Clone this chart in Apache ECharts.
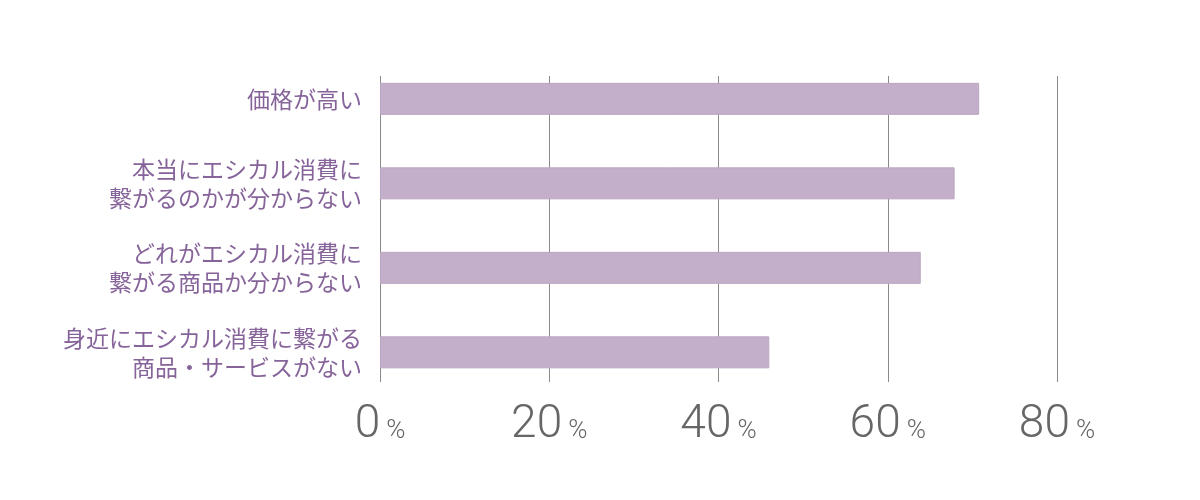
<!DOCTYPE html>
<html>
<head>
<meta charset="utf-8">
<script src="https://cdn.jsdelivr.net/npm/echarts@6/dist/echarts.min.js"></script>
<style>
html,body{margin:0;padding:0;background:#fff;}
#c{width:1200px;height:500px;}
</style>
</head>
<body>
<div id="c"></div>
<script>
const categories = [
  '価格が高い',
  '本当にエシカル消費に\n繋がるのかが分からない',
  'どれがエシカル消費に\n繋がる商品か分からない',
  '身近にエシカル消費に繋がる\n商品・サービスがない'
];
const values = [70.8, 67.9, 63.9, 46.0];
const tickValues = [0, 20, 40, 60, 80];

const chart = echarts.init(document.getElementById('c'), null, {renderer: 'canvas'});
chart.setOption({
  backgroundColor: '#ffffff',
  animation: false,
  grid: [
    {left: 380, right: 143, top: 56.6, height: 338, containLabel: false},
    {left: 380, right: 143, top: 76, height: 306, containLabel: false}
  ],
  xAxis: [
    {gridIndex: 0, type: 'value', min: 0, max: 80, interval: 20, show: false},
    {
      gridIndex: 1, type: 'value', min: 0, max: 80, interval: 20,
      axisLine: {show: false}, axisTick: {show: false},
      splitLine: {show: true, lineStyle: {color: '#8a8a8a', width: 1}},
      axisLabel: {
        margin: 16,
        formatter: function (v) { return '{n|' + v + '}{p|%}'; },
        rich: {
          n: {fontSize: 46, fontFamily: 'Roboto', fontWeight: 300, color: '#666666', verticalAlign: 'bottom', lineHeight: 50},
          p: {fontSize: 26, fontFamily: 'Roboto', fontWeight: 300, color: '#666666', verticalAlign: 'bottom', lineHeight: 50, padding: [0, 0, 4, 6]}
        }
      }
    }
  ],
  yAxis: [
    {
      gridIndex: 0, type: 'category', data: categories, inverse: true,
      axisLine: {show: false}, axisTick: {show: false}, splitLine: {show: false},
      axisLabel: {
        margin: 18, fontSize: 23, lineHeight: 29, color: '#86649a',
        fontFamily: 'Noto Sans CJK JP', fontWeight: 400, align: 'right'
      }
    },
    {gridIndex: 1, type: 'value', show: false}
  ],
  series: [
    {
      type: 'bar', xAxisIndex: 0, yAxisIndex: 0, data: values, barWidth: 32,
      itemStyle: {color: '#c3afc9', borderColor: '#bba5c2', borderWidth: 1},
      silent: true
    }
  ]
});
</script>
</body>
</html>
